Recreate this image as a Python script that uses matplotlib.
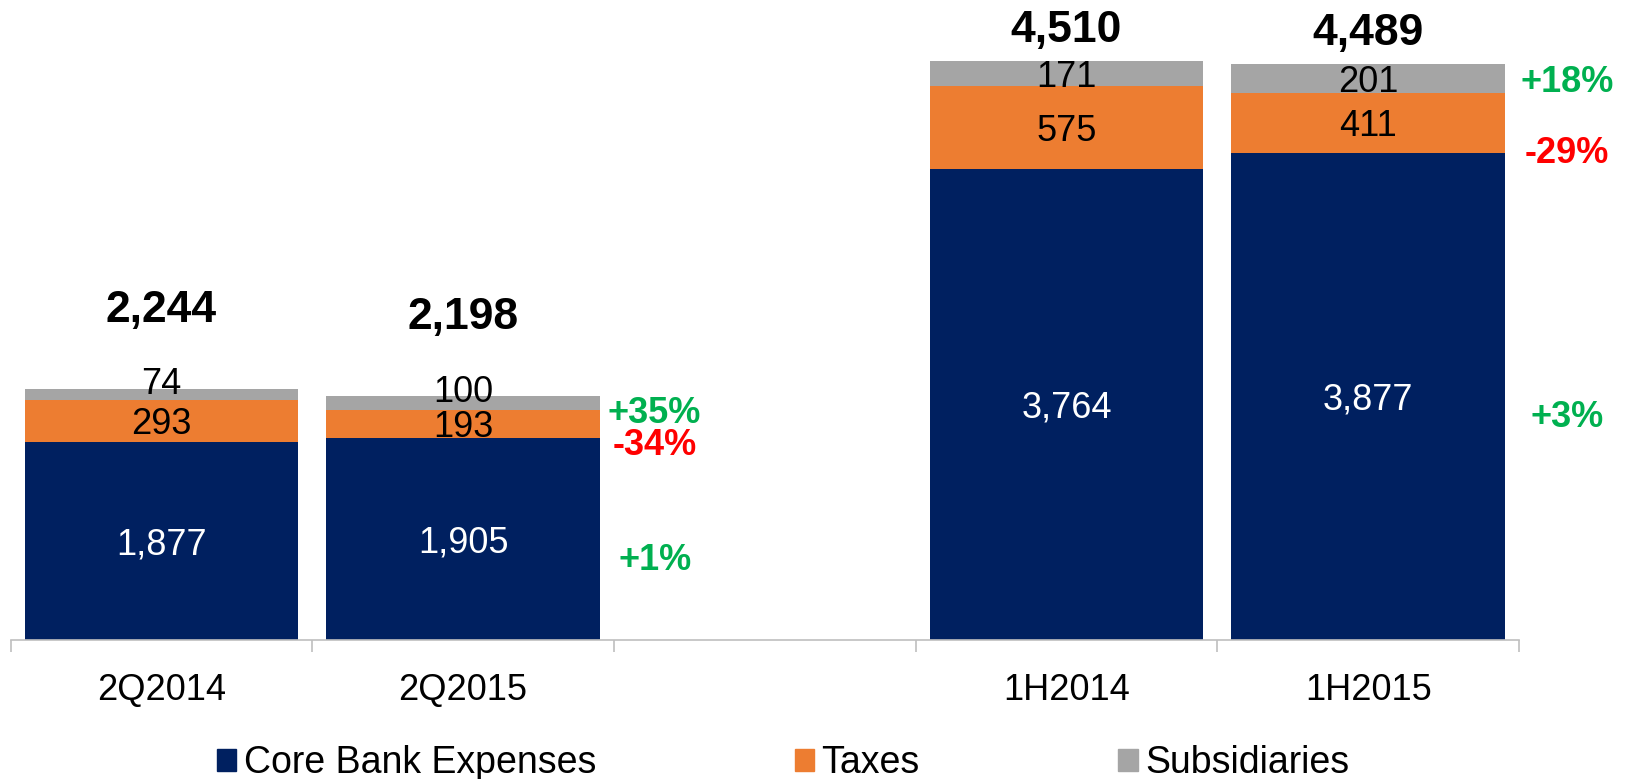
import matplotlib
matplotlib.use("Agg")
import matplotlib.pyplot as plt
import numpy as np
from matplotlib.patches import Patch

plt.rcParams['font.family'] = ['Liberation Sans', 'DejaVu Sans']

# Data
categories = ['2Q2014', '2Q2015', '', '1H2014', '1H2015']
bar_slots = [0, 1, 3, 4]
core = [1877, 1905, 3764, 3877]
taxes = [293, 193, 575, 411]
subs = [74, 100, 171, 201]
totals = [2244, 2198, 4510, 4489]
# year-on-year change labels, shown beside the later bar of each pair
change_core = ['+1%', '+3%']
change_taxes = ['-34%', '-29%']
change_subs = ['+35%', '+18%']

navy = '#002060'
orange = '#ED7D31'
grey = '#A5A5A5'
green = '#00B050'
red = '#FF0000'

W, H = 1639, 779
fig = plt.figure(figsize=(W / 100, H / 100), dpi=100)
base_px = 640
ax = fig.add_axes([10.5 / W, 1 - base_px / H, (1519 - 10.5) / W, base_px / H])
ax.set_xlim(-0.5, 4.5)
ax.set_ylim(512, 4933)

bw = 0.907
ax.bar(bar_slots, core, bw, color=navy, zorder=2)
bot2 = np.array(core)
ax.bar(bar_slots, taxes, bw, bottom=bot2, color=orange, zorder=2)
bot3 = bot2 + np.array(taxes)
ax.bar(bar_slots, subs, bw, bottom=bot3, color=grey, zorder=2)

ymin = ax.get_ylim()[0]
px_per_unit = base_px / (ax.get_ylim()[1] - ymin)


def label(x, y, s, size, dy=0, **kw):
    # centre the digits (cap height) on y, dy in pixels
    ax.annotate(s, (x, y), xytext=(0, dy - 0.358 * size * 100 / 72),
                textcoords='offset pixels', ha='center', va='baseline',
                fontsize=size, annotation_clip=False, **kw)


seg_fs = 26
for i, x in enumerate(bar_slots):
    c_mid = (ymin + core[i]) / 2
    t_mid = core[i] + taxes[i] / 2
    s_mid = bot3[i] + subs[i] / 2
    label(x, c_mid, f"{core[i]:,}", seg_fs, color='white')
    label(x, t_mid, f"{taxes[i]:,}", seg_fs, color='black')
    lift = 14 if subs[i] * px_per_unit < 20 else 0
    label(x, s_mid, f"{subs[i]:,}", seg_fs, dy=lift, color='black')
    pad = 83 if x < 2 else 35
    label(x, totals[i], f"{totals[i]:,}", 32, dy=pad, fontweight='bold', color='black')

# change labels next to the second bar of each pair
pct_shift = [0.635, 0.66]
for g, i in enumerate([1, 3]):
    x = bar_slots[i] + pct_shift[g]
    c_mid = (ymin + core[i]) / 2
    t_mid = core[i] + taxes[i] / 2
    s_mid = bot3[i] + subs[i] / 2
    t_off = -18 if g == 0 else -27
    s_off = -7 if g == 0 else 0
    label(x, c_mid, change_core[g], 26, dy=-18, fontweight='bold',
          color=green if change_core[g].startswith('+') else red)
    label(x, t_mid, change_taxes[g], 26, dy=t_off, fontweight='bold',
          color=green if change_taxes[g].startswith('+') else red)
    label(x, s_mid, change_subs[g], 26, dy=s_off, fontweight='bold',
          color=green if change_subs[g].startswith('+') else red)

# axes styling
for side in ['left', 'right', 'top']:
    ax.spines[side].set_visible(False)
ax.spines['bottom'].set_color('#BFBFBF')
ax.spines['bottom'].set_linewidth(1.2)
ax.set_yticks([])
ax.set_xticks(range(len(categories)))
ax.set_xticklabels(categories, fontsize=26)
ax.tick_params(axis='x', which='major', length=0, pad=23.5)
ax.set_xticks(np.arange(-0.5, len(categories), 1), minor=True)
ax.tick_params(axis='x', which='minor', length=8.6, width=1.2, color='#BFBFBF')

# legend
handles = [Patch(color=navy, label='Core Bank Expenses'),
           Patch(color=orange, label='Taxes'),
           Patch(color=grey, label='Subsidiaries')]
fig.legend(handles=handles, loc='center left', bbox_to_anchor=(217 / W, 1 - 763 / H),
           ncol=3, frameon=False, fontsize=27, handlelength=0.51, handleheight=0.51,
           handletextpad=0.2, columnspacing=5.3, borderpad=0, borderaxespad=0)

fig.savefig('out.png', dpi=100)
